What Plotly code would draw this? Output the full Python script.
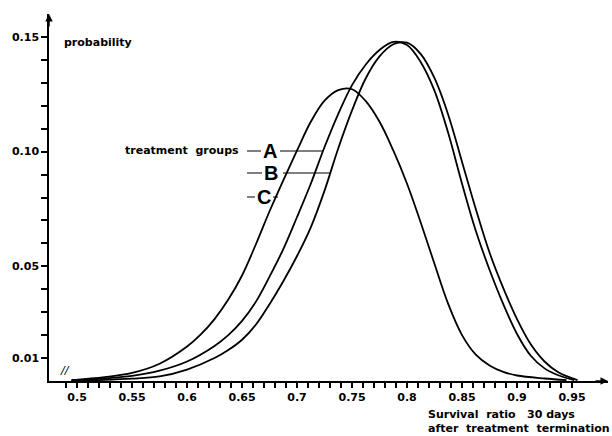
import plotly.graph_objects as go

# ---- data (probability vs survival ratio) ----
A_x = [0.495, 0.525, 0.55, 0.575, 0.60, 0.625, 0.6375, 0.65, 0.6625, 0.675, 0.6875, 0.70, 0.7125,
       0.725, 0.7375, 0.75, 0.7625, 0.775, 0.7875, 0.80, 0.8125, 0.825, 0.8375, 0.85, 0.8625, 0.875,
       0.8875, 0.90, 0.9125, 0.925, 0.9375, 0.952]
A_y = [0.0003, 0.0011, 0.0022, 0.0045, 0.0085, 0.0153, 0.0200, 0.0262, 0.0345, 0.0455, 0.0575, 0.0715, 0.0860,
       0.1020, 0.1165, 0.1290, 0.1380, 0.1443, 0.1478, 0.1465, 0.1390, 0.1265, 0.1080, 0.0860, 0.0655, 0.0485,
       0.0335, 0.0205, 0.0110, 0.0055, 0.0025, 0.0004]

B_x = [0.495, 0.525, 0.55, 0.575, 0.60, 0.625, 0.6375, 0.65, 0.6625, 0.675, 0.6875, 0.70, 0.7125,
       0.725, 0.7375, 0.75, 0.7625, 0.775, 0.7875, 0.80, 0.8125, 0.825, 0.8375, 0.85, 0.8625, 0.875,
       0.8875, 0.90, 0.9125, 0.925, 0.9375, 0.955]
B_y = [0.0003, 0.0005, 0.0010, 0.0020, 0.0050, 0.0100, 0.0135, 0.0180, 0.0245, 0.0335, 0.0435, 0.0545, 0.0670,
       0.0830, 0.1015, 0.1180, 0.1320, 0.1415, 0.1468, 0.1475, 0.1425, 0.1320, 0.1160, 0.0955, 0.0750, 0.0560,
       0.0405, 0.0270, 0.0160, 0.0085, 0.0038, 0.0004]

C_x = [0.495, 0.525, 0.55, 0.575, 0.60, 0.6125, 0.625, 0.6375, 0.65, 0.6625, 0.675, 0.6875, 0.70,
       0.7125, 0.725, 0.7375, 0.75, 0.7625, 0.775, 0.7875, 0.80, 0.8125, 0.825, 0.8375, 0.85, 0.8625,
       0.875, 0.8875, 0.90, 0.925, 0.945]
C_y = [0.0004, 0.0017, 0.0035, 0.0075, 0.0150, 0.0203, 0.0270, 0.0355, 0.0460, 0.0595, 0.0740, 0.0875, 0.1005,
       0.1130, 0.1222, 0.1268, 0.1272, 0.1220, 0.1130, 0.1005, 0.0860, 0.0690, 0.0510, 0.0335, 0.0200, 0.0115,
       0.0068, 0.0040, 0.0024, 0.0011, 0.0004]

X_TICK_VALUES = [0.5, 0.55, 0.6, 0.65, 0.7, 0.75, 0.8, 0.85, 0.9, 0.95]
X_TICK_LABELS = ["0.5", "0.55", "0.6", "0.65", "0.7", "0.75", "0.8", "0.85", "0.9", "0.95"]
Y_TICK_VALUES = [0.01, 0.05, 0.10, 0.15]
Y_TICK_LABELS = ["0.01", "0.05", "0.10", "0.15"]

# ---- layout geometry ----
W, H = 612, 436
ML, MR, MT, MB = 49, 4, 14, 55
X_RANGE = [0.4745, 0.9827]
Y_RANGE = [0.0, 0.16]
FONT = "DejaVu Sans"


def xp(px):
    return (px - ML) / (W - ML - MR)


def yp(py):
    return (H - MB - py) / (H - MT - MB)


def tick_set(start, count, values, labels):
    ticks = [round(start + 0.01 * i, 2) for i in range(count)]
    text = []
    for v in ticks:
        lab = ""
        for t, l in zip(values, labels):
            if abs(v - t) < 1e-9:
                lab = l
        text.append(lab)
    return ticks, text


x_ticks, x_text = tick_set(0.49, 47, X_TICK_VALUES, X_TICK_LABELS)
y_ticks, y_text = tick_set(0.01, 15, Y_TICK_VALUES, Y_TICK_LABELS)

fig = go.Figure()
for xs, ys in ((A_x, A_y), (B_x, B_y), (C_x, C_y)):
    fig.add_trace(go.Scatter(x=xs, y=ys, mode="lines",
                             line=dict(color="black", width=1.8, shape="spline", smoothing=1.0),
                             showlegend=False, hoverinfo="skip"))

tickfont = dict(family=FONT, size=11, color="black", weight="bold")
fig.update_layout(
    width=W, height=H, margin=dict(l=ML, r=MR, t=MT, b=MB),
    paper_bgcolor="white", plot_bgcolor="white", showlegend=False,
    xaxis=dict(range=X_RANGE, showline=True, linecolor="black", linewidth=1.5,
               ticks="outside", ticklen=5, tickwidth=1.5, tickcolor="#000000",
               tickmode="array", tickvals=x_ticks, ticktext=x_text,
               showgrid=False, zeroline=False, tickfont=tickfont),
    yaxis=dict(range=Y_RANGE, showline=True, linecolor="black", linewidth=1.5,
               ticks="outside", ticklen=6, tickwidth=1.5, tickcolor="#000000",
               tickmode="array", tickvals=y_ticks, ticktext=y_text,
               showgrid=False, zeroline=False, tickfont=tickfont),
)

ann = []
# axis arrows
ann.append(dict(xref="paper", yref="paper", x=0, y=1.0, ax=0, ay=14,
                showarrow=True, arrowhead=2, arrowsize=1, arrowwidth=1.5, arrowcolor="black", text=""))
ann.append(dict(xref="paper", yref="paper", x=1.0, y=0, ax=-14, ay=0,
                showarrow=True, arrowhead=2, arrowsize=1, arrowwidth=1.5, arrowcolor="black", text=""))
# axis break mark
ann.append(dict(xref="paper", yref="paper", x=xp(58), y=yp(379), text="<i>//</i>", showarrow=False,
                font=dict(family=FONT, size=11, color="black")))
txtfont = dict(family=FONT, size=11, color="black", weight="bold")
ann.append(dict(xref="paper", yref="paper", x=xp(62), y=yp(42), text="probability", showarrow=False,
                xanchor="left", yanchor="middle", font=txtfont))
ann.append(dict(xref="paper", yref="paper", x=xp(123), y=yp(151), text="treatment  groups", showarrow=False,
                xanchor="left", yanchor="middle", font=txtfont))
letter_font = dict(family="Liberation Sans", size=20, color="black", weight="bold")
for letter, cx, cy in (("A", 270, 151), ("B", 271, 173), ("C", 264, 197)):
    ann.append(dict(xref="paper", yref="paper", x=xp(cx), y=yp(cy), text=letter, showarrow=False,
                    xanchor="center", yanchor="middle", font=letter_font))
ann.append(dict(xref="paper", yref="paper", x=xp(426), y=yp(414), text="Survival  ratio   30 days",
                showarrow=False, xanchor="left", yanchor="middle", font=txtfont))
ann.append(dict(xref="paper", yref="paper", x=xp(426), y=yp(428), text="after  treatment  termination",
                showarrow=False, xanchor="left", yanchor="middle", font=txtfont))
fig.update_layout(annotations=ann)

# leader lines from the group labels to their curves
shapes = []
for (x0, x1, y) in ((247, 261, 151), (280, 323, 151),
                    (247, 262, 173), (283, 330, 173),
                    (247, 255, 197), (273, 278, 197)):
    shapes.append(dict(type="line", xref="paper", yref="paper", x0=xp(x0), x1=xp(x1), y0=yp(y), y1=yp(y),
                       line=dict(color="black", width=1)))
fig.update_layout(shapes=shapes)

fig.write_html("out.html")
